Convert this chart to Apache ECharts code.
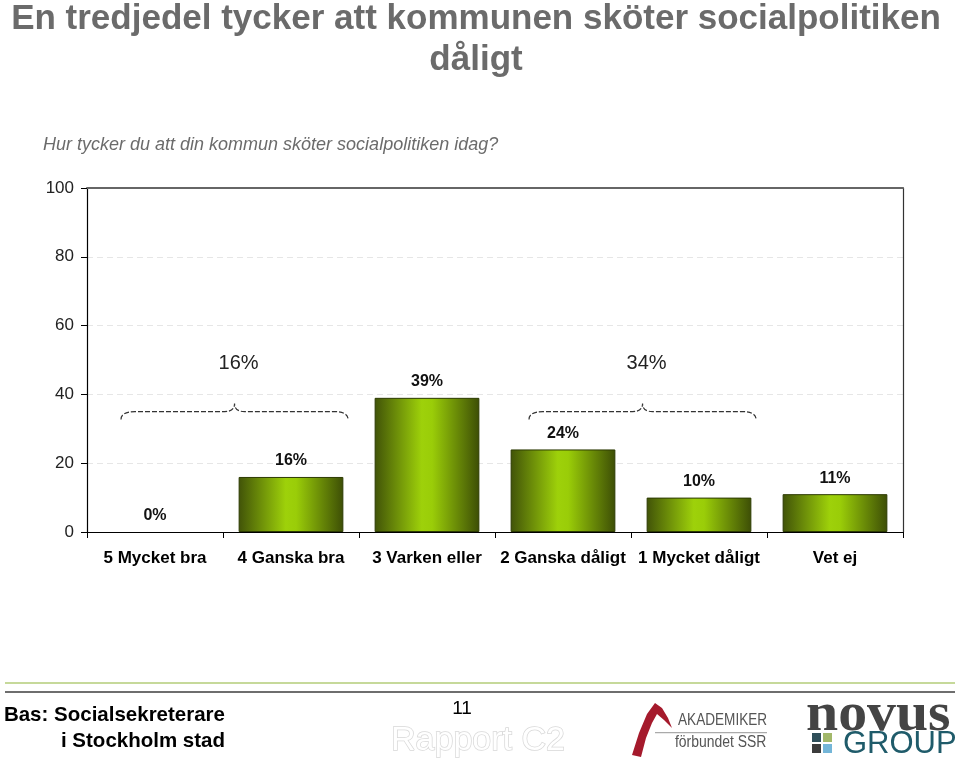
<!DOCTYPE html>
<html>
<head>
<meta charset="utf-8">
<script src="https://cdn.jsdelivr.net/npm/echarts@6/dist/echarts.min.js"></script>
<style>
  html, body { margin: 0; padding: 0; background: #fff; }
  #chart { width: 960px; height: 762px; }
</style>
</head>
<body>
<div id="chart"></div>
<script>
// svarsalternativ och andelar (%)
const categories = ['5 Mycket bra', '4 Ganska bra', '3 Varken eller', '2 Ganska dåligt', '1 Mycket dåligt', 'Vet ej']
const shares = [0, 16, 39, 24, 10, 11]
const yTicks = [0, 20, 40, 60, 80, 100]

// klammer som summerar grupper: första och sista kategori, summa
const braceStart = [0, 3]
const braceEnd = [1, 4]
const braceTotals = [16, 34]

const chart = echarts.init(document.getElementById('chart'))
const font = 'Liberation Sans, Arial, sans-serif'

const barColor = new echarts.graphic.LinearGradient(0, 0, 1, 0, [
  { offset: 0, color: '#415308' },
  { offset: 0.45, color: '#9ed10a' },
  { offset: 0.55, color: '#9acd08' },
  { offset: 1, color: '#3d4e06' }
])

/**
 * ritar en streckad klammer över en grupp staplar
 */
function renderBrace(params, api) {
  const bw = api.size([1, 0])[0]
  const p0 = api.coord([api.value(0), 35])
  const p1 = api.coord([api.value(1), 35])
  const x0 = p0[0] - bw * 0.25
  const x1 = p1[0] + bw * 0.42
  const y = p0[1]
  const xm = (x0 + x1) / 2
  const path = 'M' + x0 + ',' + (y + 8) +
    ' Q' + x0 + ',' + y + ' ' + (x0 + 14) + ',' + y +
    ' L' + (xm - 10) + ',' + y +
    ' Q' + xm + ',' + y + ' ' + xm + ',' + (y - 8) +
    ' Q' + xm + ',' + y + ' ' + (xm + 10) + ',' + y +
    ' L' + (x1 - 14) + ',' + y +
    ' Q' + x1 + ',' + y + ' ' + x1 + ',' + (y + 8)
  return {
    type: 'group',
    children: [
      {
        type: 'path',
        shape: { pathData: path },
        style: { fill: 'none', stroke: '#333', lineWidth: 1.2, lineDash: [5, 2] }
      },
      {
        type: 'text',
        style: {
          x: xm + 4, y: y - 48, text: api.value(2) + '%',
          fill: '#222', font: '20px ' + font, align: 'center', verticalAlign: 'middle'
        }
      }
    ]
  }
}

const option = {
  backgroundColor: '#fff',
  animation: false,
  grid: { left: 87, right: 57, top: 188, bottom: 230 },
  xAxis: [
    {
      type: 'category',
      data: categories,
      axisLine: { lineStyle: { color: '#000', width: 1.2 } },
      axisTick: { show: true, length: 6, lineStyle: { color: '#000' } },
      axisLabel: { interval: 0, margin: 18, fontFamily: font, fontSize: 17, fontWeight: 'bold', color: '#000' }
    },
    {
      type: 'category',
      position: 'top',
      data: categories,
      axisLine: { onZero: false, lineStyle: { color: '#666', width: 2 } },
      axisTick: { show: false },
      axisLabel: { show: false }
    }
  ],
  yAxis: [
    {
      type: 'value',
      min: 0,
      max: 100,
      interval: 20,
      axisLine: { show: true, lineStyle: { color: '#000', width: 1.2 } },
      axisTick: { show: true, length: 6, lineStyle: { color: '#000' } },
      axisLabel: {
        margin: 13, fontFamily: font, fontSize: 17, color: '#222',
        formatter: v => (yTicks.includes(v) ? String(v) : '')
      },
      splitLine: { show: true, lineStyle: { color: '#e6e6e6', type: [6, 4] } }
    },
    {
      type: 'value',
      position: 'right',
      min: 0,
      max: 100,
      interval: 20,
      axisLine: { show: true, lineStyle: { color: '#333', width: 1.2 } },
      axisTick: { show: false },
      axisLabel: { show: false },
      splitLine: { show: false }
    }
  ],
  series: [
    {
      type: 'bar',
      data: shares.map(v => ({ value: v, itemStyle: { borderWidth: v ? 1 : 0 } })),
      barWidth: '77%',
      itemStyle: { color: barColor, borderColor: '#2c3a02', borderWidth: 1 },
      label: {
        show: true,
        position: 'top',
        distance: 8,
        formatter: '{c}%',
        fontFamily: font,
        fontSize: 16,
        fontWeight: 'bold',
        color: '#111'
      }
    },
    {
      type: 'custom',
      renderItem: renderBrace,
      data: braceStart.map((s, i) => [s, braceEnd[i], braceTotals[i]]),
      encode: { x: [0, 1] },
      silent: true,
      z: 5
    }
  ],
  graphic: [
    {
      type: 'text', x: 476, y: -1,
      style: {
        text: 'En tredjedel tycker att kommunen sköter socialpolitiken\ndåligt',
        font: 'bold 35px ' + font, fill: '#6b6b6b', align: 'center', lineHeight: 41
      }
    },
    {
      type: 'text', x: 43, y: 136,
      style: { text: 'Hur tycker du att din kommun sköter socialpolitiken idag?', font: 'italic 18px ' + font, fill: '#6b6b6b' }
    },
    // sidfot
    { type: 'rect', shape: { x: 5, y: 682, width: 950, height: 2 }, style: { fill: '#c6d99a' } },
    { type: 'rect', shape: { x: 5, y: 691, width: 950, height: 2 }, style: { fill: '#6e6e6e' } },
    {
      type: 'text', x: 225, y: 702,
      style: { text: 'Bas: Socialsekreterare\ni Stockholm stad', font: 'bold 20.5px ' + font, fill: '#000', align: 'right', lineHeight: 26 }
    },
    { type: 'text', x: 462, y: 699, style: { text: '11', font: '19px ' + font, fill: '#000', align: 'center' } },
    {
      type: 'text', x: 478, y: 724,
      style: { text: 'Rapport C2', font: '34px ' + font, fill: '#fff', stroke: '#d8d8d8', lineWidth: 1.5, align: 'center' }
    },
    // Akademikerförbundet SSR
    {
      type: 'polygon',
      shape: { points: [[632, 755], [639, 733], [647, 714], [655, 703], [662, 708], [668, 718], [672, 728], [664, 720], [657, 714], [652, 723], [646, 738], [641, 757]] },
      style: { fill: '#a51a2c' }
    },
    { type: 'text', x: 678, y: 712, scaleX: 0.8, style: { text: 'AKADEMIKER', font: '17px ' + font, fill: '#555' } },
    { type: 'rect', shape: { x: 655, y: 732, width: 112, height: 1.2 }, style: { fill: '#aaa' } },
    { type: 'text', x: 675, y: 735, scaleX: 0.87, style: { text: 'förbundet SSR', font: '16px ' + font, fill: '#555' } },
    // Novus Group
    {
      type: 'text', x: 806, y: 743, scaleX: 1.07,
      style: { text: 'novus', font: 'bold 54px Liberation Serif, serif', fill: '#444', verticalAlign: 'bottom' }
    },
    { type: 'rect', shape: { x: 812, y: 733, width: 9, height: 9 }, style: { fill: '#2f4f5a' } },
    { type: 'rect', shape: { x: 823, y: 733, width: 9, height: 9 }, style: { fill: '#a2b86a' } },
    { type: 'rect', shape: { x: 812, y: 744, width: 9, height: 9 }, style: { fill: '#3c3c3c' } },
    { type: 'rect', shape: { x: 823, y: 744, width: 9, height: 9 }, style: { fill: '#74b6d8' } },
    { type: 'text', x: 843, y: 729, style: { text: 'GROUP', font: '31px ' + font, fill: '#1f5b6a' } }
  ]
}

chart.setOption(option)
window.addEventListener('resize', () => chart.resize())
</script>
</body>
</html>
